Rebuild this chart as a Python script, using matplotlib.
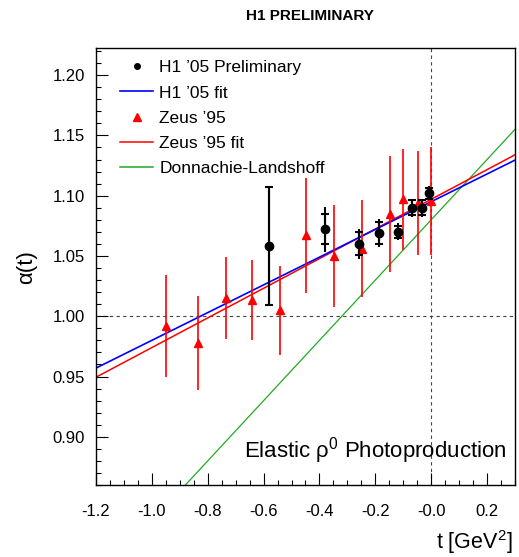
import matplotlib
matplotlib.use('Agg')
import numpy as np
import matplotlib.pyplot as plt
from matplotlib.lines import Line2D
from matplotlib.ticker import MultipleLocator, FixedLocator, FixedFormatter

plt.rcParams['font.family'] = ['Liberation Sans', 'DejaVu Sans']
plt.rcParams['mathtext.fontset'] = 'custom'
plt.rcParams['mathtext.rm'] = 'Liberation Sans'
plt.rcParams['mathtext.it'] = 'Liberation Sans:italic'

# H1 '05 preliminary points
h1_t = [-0.581, -0.380, -0.258, -0.186, -0.118, -0.068, -0.032, -0.007]
h1_alpha = [1.058, 1.072, 1.060, 1.069, 1.070, 1.090, 1.090, 1.102]
h1_stat = [0.049, 0.0124, 0.0095, 0.0095, 0.005, 0.006, 0.006, 0.0046]
h1_tot = [0.049, 0.019, 0.0124, 0.0116, 0.007, 0.0075, 0.0075, 0.006]

# Zeus '95 points
zeus_t = [-0.95, -0.835, -0.735, -0.642, -0.541, -0.448, -0.348, -0.247, -0.147, -0.100, -0.047, 0.0]
zeus_alpha = [0.992, 0.978, 1.015, 1.0135, 1.005, 1.067, 1.050, 1.056, 1.085, 1.097, 1.094, 1.0955]
zeus_err = [0.042, 0.039, 0.034, 0.033, 0.037, 0.048, 0.042, 0.040, 0.048, 0.042, 0.043, 0.045]

# linear trajectories alpha(t) = a0 + a1*t
h1_fit = (1.095, 0.115)
zeus_fit = (1.097, 0.123)
dl_fit = (1.08, 0.25)

x_ticks = [-1.2, -1.0, -0.8, -0.6, -0.4, -0.2, 0.0, 0.2]
x_ticklabels = ['-1.2', '-1.0', '-0.8', '-0.6', '-0.4', '-0.2', '-0.0', '0.2']
y_ticks = [0.90, 0.95, 1.00, 1.05, 1.10, 1.15, 1.20]
y_ticklabels = ['0.90', '0.95', '1.00', '1.05', '1.10', '1.15', '1.20']

fig = plt.figure(figsize=(5.19, 5.57), dpi=100)
ax = fig.add_axes([96 / 519, 72 / 557, 419 / 519, 437 / 557])
ax.set_xlim(-1.2, 0.3)
ax.set_ylim(0.86, 1.2225)

# reference lines
ax.axhline(1.0, color='#444444', lw=0.8, ls=(0, (3, 3)), zorder=1)
ax.axvline(0.0, color='#444444', lw=0.8, ls=(0, (3, 3)), zorder=1)

tt = np.linspace(-1.2, 0.3, 50)
ax.plot(tt, dl_fit[0] + dl_fit[1] * tt, color='#22aa22', lw=0.9, zorder=2)
ax.plot(tt, zeus_fit[0] + zeus_fit[1] * tt, color='red', lw=1.1, zorder=2)
ax.plot(tt, h1_fit[0] + h1_fit[1] * tt, color='blue', lw=1.2, zorder=2)

ax.errorbar(zeus_t, zeus_alpha, yerr=zeus_err, fmt='^', color='red', ms=6,
            elinewidth=1.2, capsize=0, zorder=3)

ax.errorbar(h1_t, h1_alpha, yerr=h1_tot, fmt='none', ecolor='black',
            elinewidth=1.5, capsize=0, zorder=4)
ax.errorbar(h1_t, h1_alpha, yerr=h1_stat, fmt='o', color='black', ms=6,
            elinewidth=1.5, capsize=2.8, capthick=1.5, zorder=5)

# ticks ROOT-style
ax.xaxis.set_major_locator(FixedLocator(x_ticks))
ax.xaxis.set_major_formatter(FixedFormatter(x_ticklabels))
ax.xaxis.set_minor_locator(MultipleLocator(0.05))
ax.yaxis.set_major_locator(FixedLocator(y_ticks))
ax.yaxis.set_major_formatter(FixedFormatter(y_ticklabels))
ax.yaxis.set_minor_locator(MultipleLocator(0.01))
ax.tick_params(which='both', direction='in', top=False, right=False, width=0.8)
ax.tick_params(which='major', length=8.5, labelsize=12)
ax.tick_params(which='minor', length=3.8)
ax.tick_params(axis='y', which='major', pad=8)
ax.tick_params(axis='x', which='major', pad=14)
for s in ax.spines.values():
    s.set_linewidth(1.0)

handles = [
    Line2D([], [], ls='none', marker='o', color='black', ms=4),
    Line2D([], [], color='blue', lw=1.2),
    Line2D([], [], ls='none', marker='^', color='red', ms=6),
    Line2D([], [], color='red', lw=1.1),
    Line2D([], [], color='#22aa22', lw=1.1),
]
labels = ["H1 \u201905 Preliminary", "H1 \u201905 fit", "Zeus \u201995", "Zeus \u201995 fit", "Donnachie-Landshoff"]
ax.legend(handles, labels, loc='upper left', bbox_to_anchor=(0.041, 0.988),
          frameon=False, fontsize=12.5, handlelength=1.9, handletextpad=0.35,
          labelspacing=0.58, borderaxespad=0)

ax.text(0.981, 0.0618, 'Elastic \u03c1$^{0}$ Photoproduction', transform=ax.transAxes,
        ha='right', va='baseline', fontsize=16)

fig.text(310 / 519, 1 - 16 / 557, 'H1 PRELIMINARY', ha='center', va='center',
         fontsize=11, fontweight='bold')
fig.text(27 / 519, 1 - 267 / 557, '\u03b1(t)', rotation=90, ha='center', va='center',
         fontsize=16)
fig.text(513 / 519, 1 - 549 / 557, 't [GeV$^{2}$]', ha='right', va='baseline', fontsize=15.5)

fig.savefig('out.png', dpi=100)
